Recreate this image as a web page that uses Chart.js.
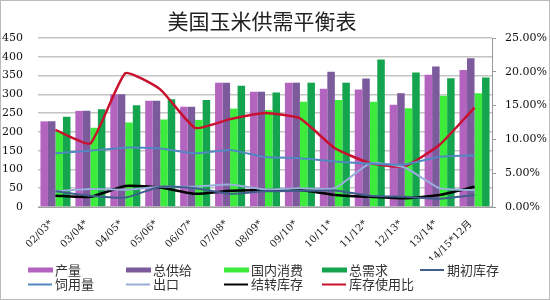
<!DOCTYPE html>
<html><head><meta charset="utf-8">
<script src="https://cdn.jsdelivr.net/npm/chart.js@4"></script>
<style>html,body{margin:0;padding:0;background:#fff;}</style>
</head><body>
<canvas id="c" width="550" height="300"></canvas>
<script>
// ---- data ----
const categories = ['02/03*','03/04*','04/05*','05/06*','06/07*','07/08*','08/09*','09/10*','10/11*','11/12*','12/13*','13/14*','14/15*12月'];
const production      = [228, 256, 300, 283, 267, 331, 307, 331, 315, 313, 272, 352, 365];
const totalSupply     = [228, 256, 300, 283, 267, 331, 307, 331, 360, 342, 303, 374, 396];
const domesticUse     = [200, 211, 225, 233, 232, 262, 258, 280, 285, 280, 263, 296, 303];
const totalDemand     = [240, 260, 271, 287, 285, 323, 305, 331, 331, 393, 358, 343, 345];
const beginStocks     = [42, 30, 25, 54, 50, 35, 42, 43, 44, 30, 27, 22, 32];
const feedUse         = [143, 150, 158, 156, 143, 152, 133, 130, 121, 116, 113, 134, 138];
const exportsVol      = [42, 48, 46, 54, 54, 60, 47, 50, 50, 116, 105, 50, 45];
const endStocks       = [30, 27, 56, 52, 35, 43, 45, 45, 32, 27, 23, 32, 54];
const stockUseRatio   = [11.4, 9.4, 19.8, 17.4, 11.7, 13.0, 13.9, 13.1, 8.7, 6.5, 6.0, 9.2, 14.7];
const leftTicks = [0, 450, 50];
const rightTicks = [0, 25, 5];

const TICK_FONT = "'DejaVu Serif', 'Noto Sans CJK SC', serif";
const CJK = "'Noto Sans CJK SC', sans-serif";

const bar = (label, data, color) => ({type:'bar', label, data, backgroundColor: color, borderWidth:0, yAxisID:'y', order:2,
  categoryPercentage:0.86, barPercentage:1.0, _legend:'bar'});
const line = (label, data, color, w, axis) => ({type:'line', label, data, borderColor: color, backgroundColor: color,
  borderWidth: w, pointRadius:0, tension:0.15, yAxisID: axis || 'y', order:1, _legend:'line'});

const datasets = [
  bar('产量', production, '#B264BE'),
  bar('总供给', totalSupply, '#7C5B9C'),
  bar('国内消费', domesticUse, '#3DEB3D'),
  bar('总需求', totalDemand, '#14A34E'),
  line('期初库存', beginStocks, '#3F5E8C', 2),
  line('饲用量', feedUse, '#5288C2', 2),
  line('出口', exportsVol, '#98AEDB', 2),
  line('结转库存', endStocks, '#000000', 2.5),
  line('库存使用比', stockUseRatio, '#C8102E', 2.5, 'y1'),
];

const decor = {
  id:'decor',
  beforeDraw(chart){
    const ctx = chart.ctx;
    ctx.save(); ctx.fillStyle='#fff'; ctx.fillRect(0,0,chart.width,chart.height); ctx.restore();
  },
  afterDraw(chart){
    const ctx = chart.ctx;
    ctx.save();
    // title
    ctx.fillStyle='#222'; ctx.font = "21px " + CJK; ctx.textAlign='center'; ctx.textBaseline='middle';
    ctx.fillText('美国玉米供需平衡表', 262, 21);
    // legend grid
    ctx.font = "13px " + CJK; ctx.textAlign='left'; ctx.fillStyle='#333';
    chart.data.datasets.forEach((ds, i) => {
      const col = i % 5, row = Math.floor(i / 5);
      const x = 28 + col * 98, y = 270 + row * 14.5;
      if (ds._legend === 'bar') { ctx.fillStyle = ds.backgroundColor; ctx.fillRect(x, y - 2.5, 25, 5); }
      else { ctx.strokeStyle = ds.borderColor; ctx.lineWidth = 2; ctx.beginPath(); ctx.moveTo(x, y); ctx.lineTo(x + 24, y); ctx.stroke(); }
      ctx.fillStyle = '#333';
      ctx.fillText(ds.label, x + 27, y);
    });
    // outer border
    ctx.strokeStyle = '#bbbbbb'; ctx.lineWidth = 1; ctx.strokeRect(0.5, 0.5, chart.width - 1, chart.height - 1);
    ctx.restore();
  }
};

new Chart(document.getElementById('c'), {
  data: { labels: categories, datasets },
  plugins: [decor],
  options: {
    responsive:false, animation:false, devicePixelRatio:1,
    layout: { padding: { top: 38, bottom: 40, left: 0, right: 0 } },
    plugins: { legend:{display:false}, title:{display:false}, tooltip:{enabled:false} },
    scales: {
      x: {
        grid:{display:false}, border:{display:true, color:'#a0a0a0', width:1},
        ticks:{ minRotation:45, maxRotation:45, autoSkip:false, color:'#222', font:{family:TICK_FONT, size:10}, padding:3, labelOffset:-4 },
        afterFit(s){ s.height = 53; }
      },
      y: {
        position:'left', min:leftTicks[0], max:leftTicks[1],
        ticks:{ stepSize:leftTicks[2], color:'#111', font:{family:TICK_FONT, size:11}, padding:15 },
        grid:{ color:'#c4c4c4', lineWidth:1.5, drawTicks:false }, border:{display:false},
        afterFit(s){ s.width = 38; }
      },
      y1: {
        position:'right', min:rightTicks[0], max:rightTicks[1],
        ticks:{ stepSize:rightTicks[2], color:'#111', font:{family:TICK_FONT, size:11}, padding:9,
          callback: v => v.toFixed(2) + '%' },
        grid:{ drawOnChartArea:false, drawTicks:true, tickLength:4, color:'#999' }, border:{display:true, color:'#999'},
        afterFit(s){ s.width = 58; }
      }
    }
  }
});
</script>
</body></html>
